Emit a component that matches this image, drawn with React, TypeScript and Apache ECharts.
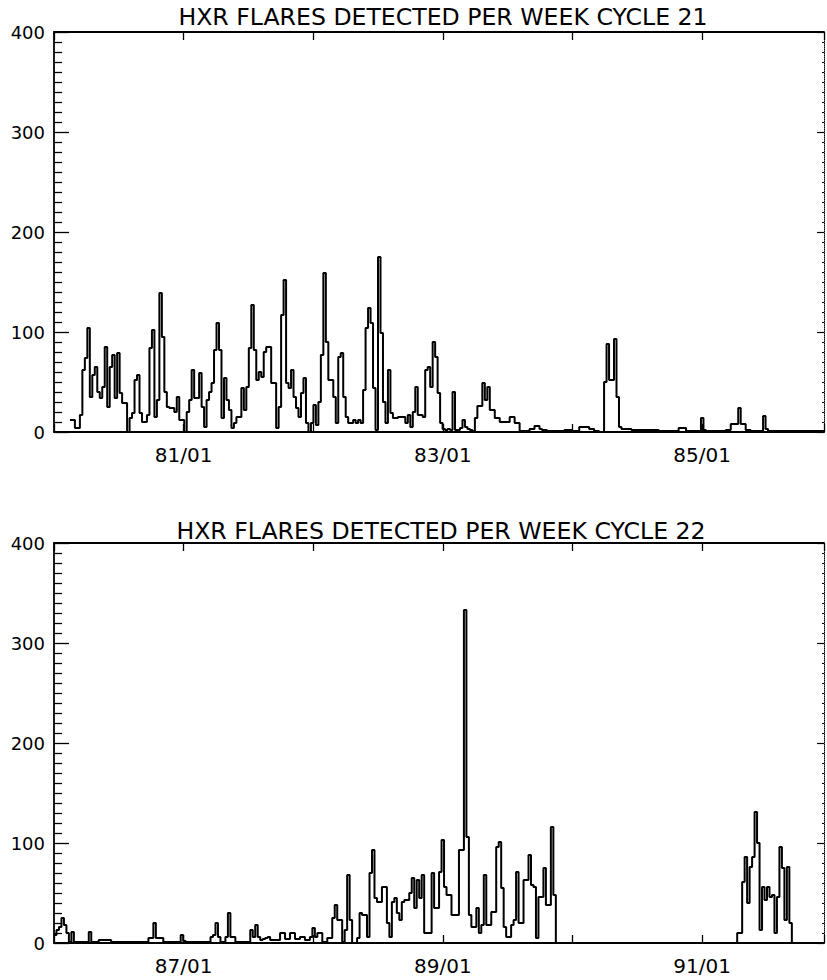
import React, { useEffect, useRef } from 'react';
import * as echarts from 'echarts';

const TITLE_21 = 'HXR FLARES DETECTED PER WEEK CYCLE 21';
const TITLE_22 = 'HXR FLARES DETECTED PER WEEK CYCLE 22';

// y axis: counts per week
const Y_MIN = 0;
const Y_MAX = 400;
const Y_STEP = 100;

// x axis ranges in decimal years (ticks every Jan, labels every other Jan)
const CYCLE21_RANGE = [1980, 1985.94];
const CYCLE22_RANGE = [1986, 1991.94];

// first week of each record (decimal year)
const CYCLE21_START = 1980.123;
const CYCLE22_START = 1986.0;
const WEEK = 7 / 365.25;

// weekly counts
const cycle21Weekly = [
  12, 12, 4, 4, 17, 62, 74, 104, 35, 57,
  65, 40, 34, 45, 85, 25, 65, 77, 34, 79,
  39, 29, 29, 0, 14, 19, 52, 57, 19, 10,
  10, 17, 84, 102, 15, 32, 139, 95, 40, 25,
  24, 24, 20, 35, 12, 12, 0, 20, 32, 62,
  34, 34, 59, 25, 5, 32, 40, 49, 82, 109,
  82, 14, 54, 32, 22, 4, 9, 15, 15, 44,
  22, 45, 84, 127, 82, 52, 60, 55, 80, 85,
  85, 49, 49, 4, 25, 117, 152, 49, 44, 62,
  35, 24, 15, 39, 54, 9, 0, 9, 27, 7,
  30, 77, 159, 90, 52, 52, 35, 9, 75, 79,
  35, 15, 9, 9, 12, 9, 12, 9, 42, 104,
  124, 109, 44, 2, 175, 99, 30, 9, 62, 19,
  14, 14, 15, 15, 15, 9, 17, 5, 20, 45,
  17, 17, 15, 62, 65, 45, 90, 75, 39, 9,
  3, 2, 3, 2, 40, 2, 2, 4, 12, 5,
  3, 2, 1, 14, 26, 26, 49, 32, 45, 22,
  22, 14, 14, 10, 10, 10, 10, 15, 15, 9,
  9, 1, 1, 1, 1, 3, 3, 6, 6, 3,
  2, 2, 1, 1, 1, 1, 1, 1, 1, 2,
  2, 2, 1, 1, 1, 5, 5, 5, 5, 3,
  3, 1, 1, 0, 0, 50, 88, 52, 52, 93,
  35, 5, 3, 3, 3, 3, 2, 2, 2, 2,
  2, 2, 2, 2, 2, 2, 2, 1, 1, 1,
  1, 1, 1, 1, 1, 4, 4, 4, 1, 1,
  1, 1, 1, 1, 14, 2, 1, 1, 1, 1,
  1, 1, 1, 1, 2, 2, 8, 8, 8, 24,
  8, 8, 2, 2, 1, 1, 1, 1, 1, 16,
  3, 1, 1, 1, 1, 1, 1, 1, 1, 1,
  1, 1, 1, 1, 1, 1, 1, 1, 1, 1,
  1, 1, 1, 1,
];

const cycle22Weekly = [
  8, 13, 16, 25, 18, 10, 1, 11, 1, 1,
  1, 1, 1, 1, 11, 1, 1, 1, 3, 3,
  3, 3, 3, 1, 1, 1, 1, 1, 1, 1,
  1, 1, 1, 1, 1, 1, 1, 1, 5, 5,
  20, 5, 5, 5, 1, 1, 1, 1, 1, 1,
  1, 8, 2, 1, 1, 1, 1, 1, 1, 1,
  1, 1, 1, 6, 8, 20, 6, 1, 1, 6,
  30, 6, 6, 1, 1, 1, 1, 1, 1, 13,
  6, 18, 6, 3, 4, 5, 6, 3, 3, 3,
  3, 10, 10, 4, 4, 10, 10, 4, 4, 6,
  6, 3, 3, 6, 15, 6, 10, 10, 1, 1,
  5, 5, 25, 38, 23, 23, 1, 13, 68, 23,
  0, 0, 5, 30, 28, 28, 6, 70, 93, 45,
  41, 41, 56, 56, 20, 6, 41, 45, 30, 23,
  41, 43, 43, 50, 65, 35, 63, 45, 68, 10,
  10, 10, 70, 35, 35, 71, 103, 56, 48, 48,
  28, 28, 28, 93, 93, 333, 106, 28, 16, 16,
  35, 10, 18, 68, 18, 18, 31, 31, 96, 101,
  55, 16, 6, 6, 18, 23, 71, 20, 20, 63,
  63, 88, 58, 56, 5, 46, 46, 75, 38, 38,
  116, 48, 0, 0, 0, 0, 0, 0, 0, 0,
  0, 0, 0, 0, 0, 0, 0, 0, 0, 0,
  0, 0, 0, 0, 0, 0, 0, 0, 0, 0,
  0, 0, 0, 0, 0, 0, 0, 0, 0, 0,
  0, 0, 0, 0, 0, 0, 0, 0, 0, 0,
  0, 0, 0, 0, 0, 0, 0, 0, 0, 0,
  0, 0, 0, 0, 0, 0, 0, 0, 0, 0,
  0, 0, 0, 0, 0, 10, 10, 61, 86, 40,
  76, 86, 131, 100, 13, 56, 43, 56, 46, 48,
  10, 46, 96, 75, 23, 76, 20,
];

function toSteps(start: number, counts: number[], closeToZero: boolean) {
  const pts: number[][] = counts.map((v, i) => [start + i * WEEK, v]);
  const endX = start + counts.length * WEEK;
  pts.push([endX, counts[counts.length - 1]]);
  if (closeToZero) pts.push([endX, 0]);
  return pts;
}

const FONT = 'DejaVu Sans';

function yearLabel(v: number) {
  const y = Math.round(v);
  if (Math.abs(v - y) > 1e-6) return '';
  return y % 2 === 1 ? `${String(y).slice(2)}/01` : '';
}

function xAxes(gridIndex: number, range: number[]) {
  const common = {
    type: 'value',
    gridIndex,
    min: range[0],
    max: range[1],
    interval: 1,
    splitLine: { show: false },
    axisLine: { show: true, onZero: false, lineStyle: { color: '#000', width: 1.8 } },
  };
  return [
    {
      ...common,
      position: 'bottom',
      axisTick: { show: true, inside: true, length: 8, lineStyle: { color: '#000', width: 1.3 } },
      axisLabel: { show: true, formatter: yearLabel, fontSize: 20, fontFamily: FONT, color: '#000', margin: 13 },
    },
    {
      ...common,
      position: 'top',
      axisTick: { show: true, inside: true, length: 8, lineStyle: { color: '#000', width: 1.3 } },
      axisLabel: { show: false },
    },
  ];
}

function yAxes(gridIndex: number) {
  const common = {
    type: 'value',
    gridIndex,
    min: Y_MIN,
    max: Y_MAX,
    interval: Y_STEP,
    splitLine: { show: false },
  };
  return [
    {
      ...common,
      position: 'left',
      axisLine: { show: true, onZero: false, lineStyle: { color: '#000', width: 1.8 } },
      axisTick: { show: true, inside: true, length: 15, lineStyle: { color: '#000', width: 1.3 } },
      minorTick: { show: true, splitNumber: 10, length: 8, lineStyle: { color: '#000', width: 1.3 } },
      axisLabel: { show: true, fontSize: 18, fontFamily: FONT, color: '#000', margin: 9 },
    },
    {
      ...common,
      position: 'right',
      axisLine: { show: true, onZero: false, lineStyle: { color: '#000', width: 1, type: 'dotted' } },
      axisTick: { show: true, inside: true, length: 7, lineStyle: { color: '#000', width: 1.2 } },
      minorTick: { show: true, splitNumber: 10, length: 2, lineStyle: { color: '#000', width: 1.2 } },
      axisLabel: { show: false },
    },
  ];
}

export default function App() {
  const ref = useRef<HTMLDivElement>(null);

  useEffect(() => {
    if (!ref.current) return;
    const chart = echarts.init(ref.current, undefined, { renderer: 'svg' });
    const lineStyle = { color: '#000', width: 2 };
    chart.setOption({
      animation: false,
      backgroundColor: '#fff',
      grid: [
        { left: 54, top: 32, width: 772, height: 400 },
        { left: 54, top: 543, width: 772, height: 400 },
      ],
      xAxis: [...xAxes(0, CYCLE21_RANGE), ...xAxes(1, CYCLE22_RANGE)],
      yAxis: [...yAxes(0), ...yAxes(1)],
      graphic: [
        {
          type: 'text',
          x: 443,
          y: 17,
          style: { text: TITLE_21, fontSize: 23.6, fontFamily: FONT, fill: '#000', align: 'center', verticalAlign: 'middle' },
        },
        {
          type: 'text',
          x: 441,
          y: 531,
          style: { text: TITLE_22, fontSize: 23.6, fontFamily: FONT, fill: '#000', align: 'center', verticalAlign: 'middle' },
        },
      ],
      series: [
        {
          type: 'line',
          step: 'end',
          xAxisIndex: 0,
          yAxisIndex: 0,
          showSymbol: false,
          symbol: 'none',
          clip: true,
          lineStyle,
          data: toSteps(CYCLE21_START, cycle21Weekly, false),
        },
        {
          type: 'line',
          step: 'end',
          xAxisIndex: 2,
          yAxisIndex: 2,
          showSymbol: false,
          symbol: 'none',
          clip: true,
          lineStyle,
          data: toSteps(CYCLE22_START, cycle22Weekly, true),
        },
      ],
    });
    return () => chart.dispose();
  }, []);

  return (
    <div
      ref={ref}
      style={{ position: 'fixed', left: 0, top: 0, width: 827, height: 980, background: '#fff' }}
    />
  );
}
